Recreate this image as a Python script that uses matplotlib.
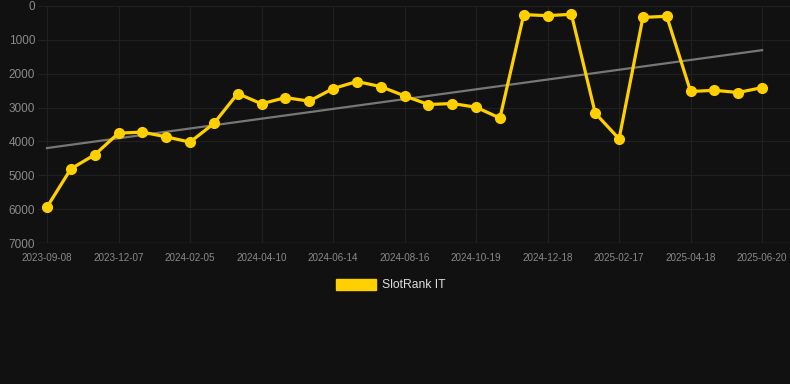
import numpy as np
import matplotlib
matplotlib.use("Agg")
import matplotlib.pyplot as plt
from matplotlib.patches import Rectangle

plt.rcParams['font.family'] = ['Liberation Sans', 'DejaVu Sans']

dates = [
    "2023-09-08", "2023-10-08", "2023-11-07", "2023-12-07", "2024-01-06", "2024-01-21",
    "2024-02-05", "2024-02-26", "2024-03-18", "2024-04-10", "2024-05-01", "2024-05-23",
    "2024-06-14", "2024-07-05", "2024-07-26", "2024-08-16", "2024-09-06", "2024-09-28",
    "2024-10-19", "2024-11-08", "2024-11-28", "2024-12-18", "2025-01-07", "2025-01-27",
    "2025-02-17", "2025-03-08", "2025-03-28", "2025-04-18", "2025-05-09", "2025-05-30",
    "2025-06-20",
]
rank = [5940, 4810, 4395, 3755, 3725, 3865, 4020, 3470, 2585, 2890, 2705, 2810,
        2440, 2230, 2380, 2655, 2910, 2880, 2990, 3310, 255, 285, 245, 3165,
        3925, 335, 305, 2525, 2490, 2555, 2410]
series_name = "SlotRank IT"
y_ticks = [0, 1000, 2000, 3000, 4000, 5000, 6000, 7000]

BG = "#111111"
GRID = "#202020"
GOLD = "#FFD000"

fig = plt.figure(figsize=(7.9, 3.84), dpi=100, facecolor=BG)
W, H = 790, 384
ax = fig.add_axes([38 / W, (H - 243) / H, (790 - 38) / W, (243 - 6) / H])
ax.set_facecolor(BG)

x = np.arange(len(rank))
# trend line (least squares)
coef = np.polyfit(x, rank, 1)
ax.plot(x, np.polyval(coef, x), color="#777777", lw=1.6, zorder=2)

ax.plot(x, rank, color=GOLD, lw=2.3, marker="o", ms=7, mfc=GOLD, mec=GOLD,
        zorder=3, clip_on=False)

ax.set_ylim(7000, 0)
ax.set_xlim(-0.378, 31.17)
ax.set_yticks(y_ticks)
ax.set_yticklabels([str(v) for v in y_ticks], color="#8a8a8a", fontsize=8.5)
tick_idx = list(range(0, len(dates), 3))
ax.set_xticks(tick_idx)
ax.set_xticklabels([dates[i] for i in tick_idx], color="#8a8a8a", fontsize=7.1)
ax.tick_params(axis="both", length=0)
ax.tick_params(axis="y", pad=2)
ax.tick_params(axis="x", pad=7)

ax.grid(True, color=GRID, lw=0.9)
for s in ax.spines.values():
    s.set_visible(False)
ax.axhline(7000, color="#2c2c2c", lw=1.0, zorder=1)

# legend
fig.patches.append(Rectangle((336 / W, (H - 290) / H), 40 / W, 11 / H,
                             transform=fig.transFigure, color=GOLD, figure=fig))
fig.text(382 / W, (H - 284.5) / H, series_name, color="#dddddd", fontsize=8.7,
         va="center", ha="left")

fig.savefig("out.png", dpi=100, facecolor=BG)
